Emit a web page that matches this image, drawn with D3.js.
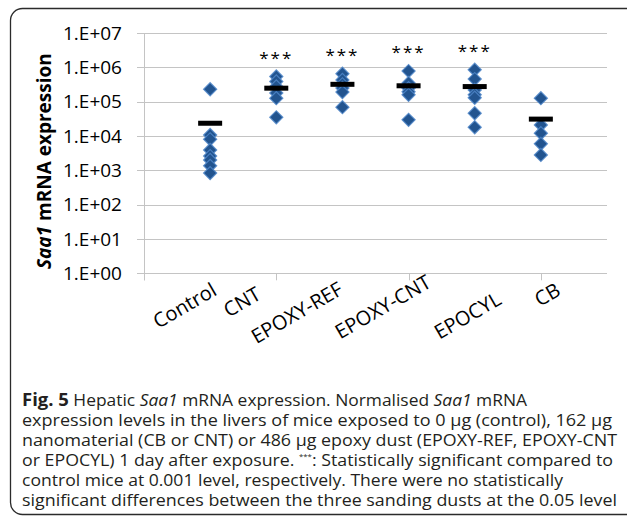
<!DOCTYPE html>
<html>
<head>
<meta charset="utf-8">
<script src="https://cdn.jsdelivr.net/npm/d3@7"></script>
<style>
  body { margin: 0; background: #fff; }
  text { font-family: "Open Sans", "Noto Sans", sans-serif; }
</style>
</head>
<body>
<div id="container"></div>
<script>
// chart data
let categories = ["Control", "CNT", "EPOXY-REF", "EPOXY-CNT", "EPOCYL", "CB"];
let controlValues = [2.3e5, 1.07e4, 8.0e3, 3.9e3, 2.6e3, 2.0e3, 1.35e3, 8.3e2];
let cntValues = [5.4e5, 3.86e5, 2.76e5, 1.78e5, 1.26e5, 3.5e4];
let epoxyRefValues = [6.5e5, 4.3e5, 3.2e5, 2.5e5, 1.9e5, 6.9e4];
let epoxyCntValues = [7.8e5, 3.5e5, 2.47e5, 1.94e5, 1.58e5, 2.95e4];
let epocylValues = [8.5e5, 4.55e5, 2.2e5, 1.6e5, 1.3e5, 4.6e4, 1.8e4];
let cbValues = [1.26e5, 2.1e4, 1.2e4, 5.9e3, 2.8e3];
let meanValues = [2.35e4, 2.47e5, 3.2e5, 2.9e5, 2.75e5, 3.1e4];
let significant = [false, true, true, true, true, false];
let yTicks = [1e0, 1e1, 1e2, 1e3, 1e4, 1e5, 1e6, 1e7];
let yTickLabels = ["1.E+00", "1.E+01", "1.E+02", "1.E+03", "1.E+04", "1.E+05", "1.E+06", "1.E+07"];

let groups = [controlValues, cntValues, epoxyRefValues, epoxyCntValues, epocylValues, cbValues];

let w = 627;
let h = 525;

let viz = d3.select("#container")
  .append("svg")
    .attr("width", w)
    .attr("height", h)
    .style("display", "block");

// outer frame
viz.append("rect")
  .attr("x", 10.5).attr("y", 8.5)
  .attr("width", 640).attr("height", 506)
  .attr("rx", 12).attr("ry", 12)
  .attr("fill", "none")
  .attr("stroke", "#2b2b2b")
  .attr("stroke-width", 1.3);

let plotLeft = 144, plotRight = 607, plotTop = 33, plotBottom = 273.3;

let yScale = d3.scaleLog().domain([1, 1e7]).range([plotBottom, plotTop]);
let xScale = d3.scalePoint().domain(categories).range([plotLeft, plotRight]).padding(1);
let step = xScale.step();

// gridlines + y tick marks
viz.selectAll(".grid").data(yTicks).enter()
  .append("line")
    .attr("class", "grid")
    .attr("x1", plotLeft - 7)
    .attr("x2", plotRight)
    .attr("y1", d => Math.round(yScale(d)) + 0.5)
    .attr("y2", d => Math.round(yScale(d)) + 0.5)
    .attr("stroke", "#c4c4c4")
    .attr("stroke-width", 1);

// y axis line
viz.append("line")
  .attr("x1", plotLeft + 0.5).attr("x2", plotLeft + 0.5)
  .attr("y1", plotTop).attr("y2", plotBottom + 7)
  .attr("stroke", "#c4c4c4");

// x tick marks every second category slot
let xTickPos = d3.range(0, categories.length + 2, 2).map(k => plotLeft + k * step);
viz.selectAll(".xtick").data(xTickPos).enter()
  .append("line")
    .attr("x1", d => Math.round(d) + 0.5)
    .attr("x2", d => Math.round(d) + 0.5)
    .attr("y1", plotBottom)
    .attr("y2", plotBottom + 7)
    .attr("stroke", "#c4c4c4");

// y tick labels
viz.selectAll(".ylabel").data(yTicks).enter()
  .append("text")
    .attr("x", 122)
    .attr("y", d => yScale(d))
    .attr("dy", "0.36em")
    .attr("text-anchor", "end")
    .style("font-size", "19px")
    .style("fill", "#000")
    .text((d, i) => yTickLabels[i]);

// y axis title
let yTitle = viz.append("text")
  .attr("transform", "translate(51," + ((plotTop + plotBottom) / 2 + 8) + ") rotate(-90)")
  .attr("text-anchor", "middle")
  .style("font-size", "19px")
  .style("font-weight", "bold");
yTitle.append("tspan").style("font-style", "italic").text("Saa1");
yTitle.append("tspan").text(" mRNA expression");

// x labels (Excel shifted these around a bit)
let labelDx = [8, -14, 2, 24, 28, 21];
let labelDy = [21, 25, 20, 13, 30, 21];
viz.selectAll(".xlabel").data(categories).enter()
  .append("text")
    .attr("transform", (d, i) => "translate(" + (xScale(d) + labelDx[i]) + "," + (plotBottom + labelDy[i]) + ") rotate(-30)")
    .attr("text-anchor", "end")
    .style("font-size", "20px")
    .text(d => d);

// points
let pointData = [];
groups.forEach((vals, i) => vals.forEach(v => pointData.push({cat: categories[i], value: v})));

let diamond = d3.symbol().type(d3.symbolSquare).size(86);
viz.selectAll(".pt").data(pointData).enter()
  .append("path")
    .attr("d", diamond)
    .attr("transform", d => "translate(" + xScale(d.cat) + "," + yScale(d.value) + ") rotate(45)")
    .attr("fill", "#22548f")
    .attr("stroke", "#4f86c8")
    .attr("stroke-width", 1.2)
    .attr("stroke-opacity", 0.85);

// mean bars
viz.selectAll(".mean").data(meanValues).enter()
  .append("rect")
    .attr("x", (d, i) => xScale(categories[i]) - 12)
    .attr("y", d => yScale(d) - 2.5)
    .attr("width", 24)
    .attr("height", 5)
    .attr("fill", "#000");

// significance stars
viz.selectAll(".stars").data(categories.filter((d, i) => significant[i])).enter()
  .append("text")
    .attr("x", d => xScale(d))
    .attr("y", d => yScale(d3.max(groups[categories.indexOf(d)])) - 13)
    .attr("text-anchor", "middle")
    .style("font-size", "17px")
    .style("letter-spacing", "2px")
    .text("***");

// caption
let captionLines = [
  [["Fig. 5", "bold"], [" Hepatic ", ""], ["Saa1", "italic"], [" mRNA expression. Normalised ", ""], ["Saa1", "italic"], [" mRNA", ""]],
  [["expression levels in the livers of mice exposed to 0 µg (control), 162 µg", ""]],
  [["nanomaterial (CB or CNT) or 486 µg epoxy dust (EPOXY-REF, EPOXY-CNT", ""]],
  [["or EPOCYL) 1 day after exposure. ", ""], ["***", "sup"], [": Statistically significant compared to", ""]],
  [["control mice at 0.001 level, respectively. There were no statistically", ""]],
  [["significant differences between the three sanding dusts at the 0.05 level", ""]]
];
// right ends of each caption line in the figure
let captionEnds = [527, 612, 617, 613, 563, 617];

let caption = viz.append("g").attr("class", "caption");
captionLines.forEach((segs, li) => {
  let t = caption.append("text")
    .attr("x", 22)
    .attr("y", 406 + li * 20)
    .attr("textLength", captionEnds[li] - 22)
    .attr("lengthAdjust", "spacingAndGlyphs")
    .style("font-size", "16px")
    .style("fill", "#231f20");
  segs.forEach(s => {
    let sp = t.append("tspan").text(s[0]);
    if (s[1] == "bold") sp.style("font-weight", "bold").style("font-size", "17px");
    if (s[1] == "italic") sp.style("font-style", "italic");
    if (s[1] == "sup") sp.style("font-size", "7px").attr("baseline-shift", "7px");
  });
});
</script>
</body>
</html>
